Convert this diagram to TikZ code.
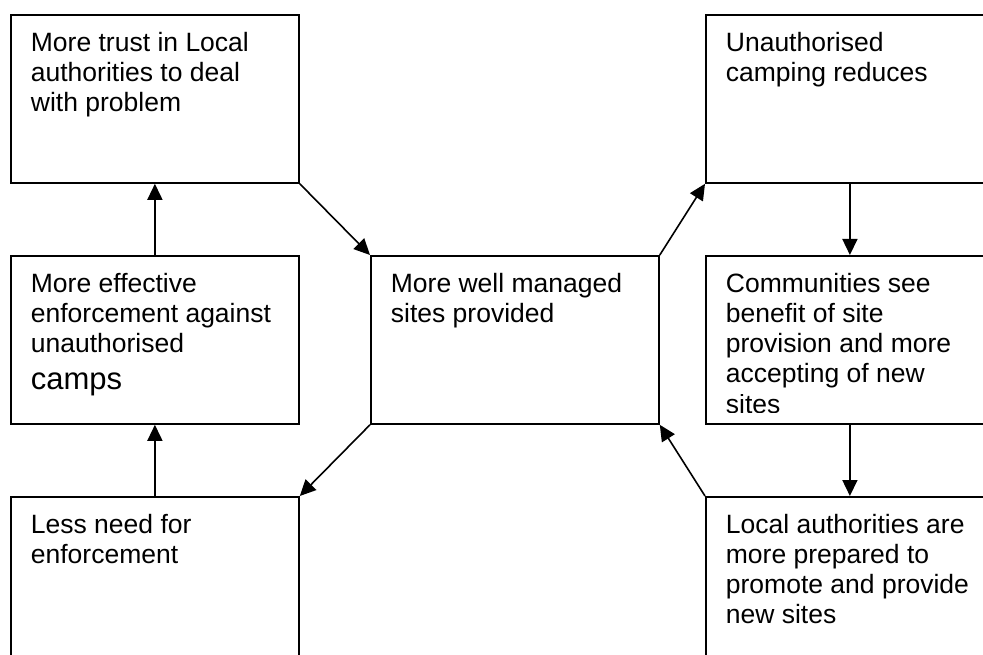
\documentclass[tikz,border=0pt]{standalone}
\usepackage{fontspec}
\setmainfont{Liberation Sans}
\usepackage{trimclip}
\usetikzlibrary{arrows.meta}
\newcommand{\boxtext}[1]{\parbox[c][134pt][t]{248pt}{\fontsize{26.5pt}{30pt}\selectfont #1}}
\begin{document}
\begin{tikzpicture}[x=1pt, y=-1pt,
  box/.style={draw, line width=1.8pt, anchor=north west, minimum width=288pt, minimum height=168pt, inner xsep=20pt, inner ysep=17pt},
  arr/.style={line width=1.6pt, -{Triangle[length=16pt,width=15pt]}}]
\useasboundingbox (0,0) rectangle (983,655);
% left column
\node[box] (trust) at (10,14) {\boxtext{More trust in Local\\authorities to deal\\with problem}};
\node[box] (enforce) at (10,255) {\boxtext{More effective\\enforcement against\\unauthorised\\[7pt]{\fontsize{31pt}{37pt}\selectfont camps}}};
\node[box] (lessneed) at (10,496) {\boxtext{Less need for\\enforcement}};
% centre
\node[box] (sites) at (370,255) {\boxtext{More well managed\\sites provided}};
% right column
\node[box] (reduces) at (705,14) {\boxtext{Unauthorised\\camping reduces}};
\node[box] (accept) at (705,255) {\boxtext{Communities see\\benefit of site\\provision and more\\accepting of new\\\clipbox{0pt 2pt 0pt 0pt}{sites}}};
\node[box] (prepared) at (705,496) {\boxtext{Local authorities are\\more prepared to\\promote and provide\\new sites}};
% arrows
\draw[arr] (enforce.north) -- (trust.south);
\draw[arr] (lessneed.north) -- (enforce.south);
\draw[arr] (trust.south east) -- (sites.north west);
\draw[arr] (sites.north east) -- (reduces.south west);
\draw[arr] (reduces.south) -- (accept.north);
\draw[arr] (accept.south) -- (prepared.north);
\draw[arr] (prepared.north west) -- (sites.south east);
\draw[arr] (sites.south west) -- (lessneed.north east);
\end{tikzpicture}
\end{document}
